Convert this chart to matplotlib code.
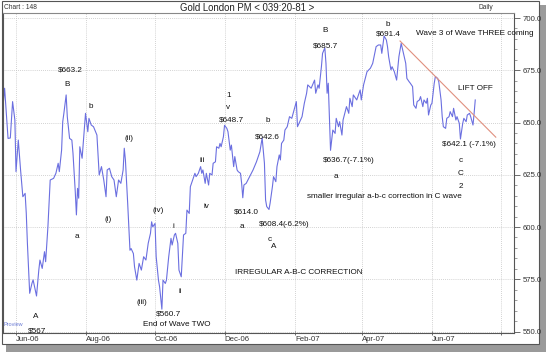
import datetime as dt
import matplotlib
matplotlib.use("Agg")
import matplotlib.pyplot as plt
import matplotlib.dates as mdates
from matplotlib.ticker import MultipleLocator, FormatStrFormatter
from matplotlib.patches import Rectangle

plt.rcParams['font.family'] = ['Liberation Sans', 'DejaVu Sans']

# daily gold fix (date, US$)
dates = [
    "2006-05-20", "2006-05-22", "2006-05-25", "2006-05-27", "2006-05-29", "2006-05-31",
    "2006-06-01", "2006-06-03", "2006-06-05", "2006-06-07", "2006-06-09", "2006-06-10",
    "2006-06-11", "2006-06-13", "2006-06-15", "2006-06-16", "2006-06-19", "2006-06-21",
    "2006-06-22", "2006-06-24", "2006-06-26", "2006-06-27", "2006-06-29", "2006-07-01",
    "2006-07-04", "2006-07-06", "2006-07-08", "2006-07-09", "2006-07-11", "2006-07-12",
    "2006-07-13", "2006-07-15", "2006-07-16", "2006-07-18", "2006-07-20", "2006-07-21",
    "2006-07-23", "2006-07-24", "2006-07-25", "2006-07-26", "2006-07-27", "2006-07-29",
    "2006-07-31", "2006-08-01", "2006-08-03", "2006-08-04", "2006-08-06", "2006-08-08",
    "2006-08-11", "2006-08-13", "2006-08-15", "2006-08-17", "2006-08-19", "2006-08-20",
    "2006-08-22", "2006-08-24", "2006-08-26", "2006-08-28", "2006-08-30", "2006-09-01",
    "2006-09-03", "2006-09-04", "2006-09-05", "2006-09-07", "2006-09-09", "2006-09-10",
    "2006-09-12", "2006-09-13", "2006-09-15", "2006-09-17", "2006-09-19", "2006-09-21",
    "2006-09-23", "2006-09-25", "2006-09-27", "2006-09-28", "2006-09-29", "2006-10-01",
    "2006-10-02", "2006-10-04", "2006-10-05", "2006-10-07", "2006-10-08", "2006-10-10",
    "2006-10-11", "2006-10-13", "2006-10-15", "2006-10-16", "2006-10-18", "2006-10-19",
    "2006-10-21", "2006-10-22", "2006-10-24", "2006-10-25", "2006-10-26", "2006-10-28",
    "2006-10-29", "2006-10-31", "2006-11-01", "2006-11-03", "2006-11-05", "2006-11-06",
    "2006-11-08", "2006-11-10", "2006-11-11", "2006-11-12", "2006-11-14", "2006-11-15",
    "2006-11-17", "2006-11-18", "2006-11-20", "2006-11-21", "2006-11-23", "2006-11-24",
    "2006-11-26", "2006-11-27", "2006-11-28", "2006-11-30", "2006-12-01", "2006-12-03",
    "2006-12-04", "2006-12-06", "2006-12-07", "2006-12-09", "2006-12-10", "2006-12-12",
    "2006-12-13", "2006-12-15", "2006-12-16", "2006-12-17", "2006-12-18", "2006-12-20",
    "2006-12-23", "2006-12-26", "2006-12-29", "2007-01-01", "2007-01-03", "2007-01-05",
    "2007-01-06", "2007-01-07", "2007-01-09", "2007-01-10", "2007-01-12", "2007-01-13",
    "2007-01-15", "2007-01-16", "2007-01-18", "2007-01-19", "2007-01-20", "2007-01-22",
    "2007-01-23", "2007-01-25", "2007-01-27", "2007-01-29", "2007-01-31", "2007-02-02",
    "2007-02-03", "2007-02-07", "2007-02-09", "2007-02-11", "2007-02-12", "2007-02-15",
    "2007-02-18", "2007-02-19", "2007-02-21", "2007-02-22", "2007-02-24", "2007-02-25",
    "2007-02-27", "2007-02-28", "2007-03-01", "2007-03-02", "2007-03-03", "2007-03-04",
    "2007-03-06", "2007-03-08", "2007-03-09", "2007-03-11", "2007-03-12", "2007-03-14",
    "2007-03-15", "2007-03-18", "2007-03-20", "2007-03-21", "2007-03-23", "2007-03-24",
    "2007-03-27", "2007-03-30", "2007-03-31", "2007-04-02", "2007-04-05", "2007-04-08",
    "2007-04-10", "2007-04-13", "2007-04-15", "2007-04-17", "2007-04-18", "2007-04-20",
    "2007-04-22", "2007-04-23", "2007-04-24", "2007-04-26", "2007-04-27", "2007-04-29",
    "2007-05-01", "2007-05-03", "2007-05-05", "2007-05-07", "2007-05-09", "2007-05-10",
    "2007-05-12", "2007-05-13", "2007-05-15", "2007-05-16", "2007-05-18", "2007-05-19",
    "2007-05-21", "2007-05-22", "2007-05-24", "2007-05-25", "2007-05-27", "2007-05-28",
    "2007-05-29", "2007-05-31", "2007-06-01", "2007-06-03", "2007-06-04", "2007-06-06",
    "2007-06-07", "2007-06-09", "2007-06-10", "2007-06-11", "2007-06-13", "2007-06-14",
    "2007-06-16", "2007-06-17", "2007-06-19", "2007-06-20", "2007-06-22", "2007-06-23",
    "2007-06-25", "2007-06-26", "2007-06-28", "2007-06-29", "2007-07-01", "2007-07-02",
    "2007-07-04", "2007-07-05", "2007-07-07", "2007-07-08", "2007-07-09",
]
prices = [
    654.4, 666.4, 642.4, 642.6, 660.0, 651.2,
    626.5, 641.6, 627.3, 614.5, 616.1, 606.6,
    592.2, 568.3, 573.1, 574.7, 567.0, 579.4,
    584.2, 580.2, 588.2, 583.4, 600.1, 622.5,
    623.3, 625.7, 630.5, 626.5, 636.8, 650.4,
    654.4, 663.2, 652.8, 642.4, 641.6, 635.3,
    616.9, 605.8, 618.5, 613.8, 638.4, 632.9,
    647.2, 654.4, 645.6, 652.0, 648.8, 648.0,
    644.0, 624.9, 628.9, 622.5, 614.5, 627.3,
    628.1, 624.1, 622.5, 614.5, 622.5, 620.9,
    627.3, 637.7, 632.1, 611.3, 588.9, 589.7,
    587.3, 581.0, 574.6, 582.6, 579.4, 585.8,
    584.2, 592.2, 597.0, 602.5, 600.1, 601.7,
    585.8, 574.6, 571.4, 560.7, 574.6, 573.0,
    574.6, 585.8, 594.6, 591.4, 596.2, 597.0,
    592.2, 579.4, 576.2, 585.8, 596.2, 597.0,
    608.1, 606.5, 619.3, 622.5, 625.7, 624.1,
    625.7, 628.9, 625.7, 627.3, 620.9, 625.7,
    620.1, 625.7, 624.9, 630.5, 631.2, 638.4,
    637.7, 640.0, 638.4, 643.2, 648.7, 647.2,
    645.6, 636.8, 639.2, 628.9, 633.7, 627.3,
    626.5, 625.7, 620.9, 614.0, 620.1, 620.9,
    624.1, 627.3, 631.2, 636.0, 642.6, 630.5,
    613.0, 609.8, 608.4, 611.5, 619.3, 624.1,
    621.7, 628.9, 634.5, 632.1, 640.0, 641.6,
    646.4, 648.0, 652.8, 652.0, 656.0, 660.0,
    648.0, 652.8, 659.2, 664.0, 668.0, 666.4,
    670.3, 664.0, 668.0, 666.4, 676.7, 683.1,
    685.7, 678.3, 664.0, 668.8, 652.8, 636.7,
    646.4, 644.8, 652.0, 648.0, 650.4, 644.0,
    651.2, 657.6, 654.4, 661.6, 657.6, 663.2,
    660.8, 665.6, 660.8, 668.0, 674.3, 676.0,
    678.3, 686.3, 687.1, 687.1, 683.1, 691.4,
    689.5, 686.3, 681.5, 675.2, 676.7, 674.3,
    670.3, 681.5, 687.9, 683.1, 678.3, 671.1,
    669.5, 668.8, 667.2, 658.4, 656.8, 660.0,
    660.8, 662.4, 657.6, 660.8, 659.2, 661.6,
    653.6, 658.4, 659.2, 668.8, 672.0, 671.1,
    669.5, 660.8, 652.8, 648.0, 647.2, 652.0,
    652.8, 655.2, 652.8, 656.8, 651.2, 652.8,
    649.6, 642.1, 649.6, 652.0, 650.4, 653.6,
    654.4, 652.8, 648.8, 654.4, 660.8,
]

# falling resistance line
trend_dates = ["2007-05-04", "2007-07-27"]
trend_prices = [689.0, 643.0]

W, H = 546, 352


def fx(x):
    return x / W


def fy(y):
    return 1 - y / H


def to_dt(s):
    return dt.datetime.strptime(s, "%Y-%m-%d")


fig = plt.figure(figsize=(W / 100, H / 100), dpi=100)
fig.patch.set_facecolor("white")

# drop shadow + outer frame
fig.patches.append(Rectangle((fx(6), fy(352)), fx(540), 8 / H, transform=fig.transFigure,
                             facecolor="#9a9a9a", edgecolor="none", zorder=-5))
fig.patches.append(Rectangle((fx(539), fy(350)), 7 / W, 345 / H, transform=fig.transFigure,
                             facecolor="#9a9a9a", edgecolor="none", zorder=-5))
fig.patches.append(Rectangle((fx(2), fy(344)), 537 / W, 343 / H, transform=fig.transFigure,
                             facecolor="white", edgecolor="#555555", lw=0.8, zorder=-4))

ax = fig.add_axes([fx(3), fy(333), (514 - 3) / W, (333 - 13) / H])
ax.set_zorder(2)
ax.set_facecolor("none")

ax.plot([to_dt(d) for d in dates], prices, color="#6b6fe0", lw=0.8)
ax.plot([to_dt(d) for d in trend_dates], trend_prices, color="#e0907f", lw=0.8)

ax.set_xlim(dt.datetime(2006, 5, 20, 14), dt.datetime(2007, 8, 12))
ax.set_ylim(549.3, 702.4)

ax.yaxis.tick_right()
ax.yaxis.set_major_locator(MultipleLocator(25))
ax.yaxis.set_minor_locator(MultipleLocator(5))
ax.yaxis.set_major_formatter(FormatStrFormatter("%.1f"))
ax.tick_params(axis="y", which="major", length=4, width=0.6, color="#555555",
               labelsize=5.6, pad=2, labelcolor="#333333")
ax.tick_params(axis="y", which="minor", length=2, width=0.5, color="#777777")

ax.xaxis.set_major_locator(mdates.MonthLocator(bymonth=[2, 4, 6, 8, 10, 12]))
ax.tick_params(axis="x", which="major", length=3, width=0.6, color="#555555",
               labelsize=5.6, pad=1, labelcolor="#333333", direction="inout")
ticks = ax.get_xticks()
ax.set_xticks(ticks)
ax.set_xticklabels([mdates.num2date(t).strftime("%b-%y")
                    if mdates.num2date(t) < dt.datetime(2007, 7, 1, tzinfo=mdates.num2date(t).tzinfo)
                    else "" for t in ticks], ha="left")

ax.grid(True, which="major", color="#c4c4c4", lw=0.6, ls=(0, (1, 1.5)))
for sp in ax.spines.values():
    sp.set_color("#555555")
    sp.set_linewidth(0.8)
ax.spines["top"].set_color("#888888")

# title bar
fig.text(fx(4), fy(7.5), "Chart : 148", fontsize=4.8, va="center", ha="left", color="#333333")
fig.text(fx(247), fy(8), "Gold London PM < 039:20-81 >", fontsize=6.9, va="center",
         ha="center", color="#222222")
fig.text(fx(493), fy(7.5), "Daily", fontsize=4.8, va="center", ha="right", color="#333333")
fig.text(fx(4), fy(325), "Proview", fontsize=4.0, va="center", ha="left", color="#6b7bd4")

# wave annotations (pixel positions in the reference)
notes = [
    (70, 70, "$663.2"), (66.7, 84, "B"), (90.7, 106.7, "b"), (129, 138.3, "(ii)"),
    (108.3, 219.3, "(i)"), (76.7, 236, "a"), (157.7, 210, "(iv)"), (173.3, 226.7, "i"),
    (35.7, 316, "A"), (36.7, 331, "$567"), (141.7, 302.7, "(iii)"), (168.3, 314.3, "$560.7"),
    (176.7, 325, "End of Wave TWO"), (180, 291.7, "ii"), (206.7, 206.7, "iv"),
    (246, 211.7, "$614.0"), (241.7, 226.7, "a"), (271.7, 224.3, "$608.4"),
    (269.3, 239.5, "c"), (274, 246, "A"), (299, 272.7, "IRREGULAR A-B-C CORRECTION"),
    (384.7, 197, "smaller irregular a-b-c correction in C wave"),
    (228.3, 95.7, "1"), (228.3, 107.7, "v"), (231.7, 120, "$648.7"), (267.7, 121, "b"),
    (267.3, 136.7, "$642.6"), (201.7, 161, "iii"), (325.5, 31, "B"), (325.5, 46, "$685.7"),
    (336, 176, "a"), (387.5, 24, "b"), (388.3, 34.5, "$691.4"),
    (475, 33.3, "Wave 3 of Wave THREE coming"), (475, 88.3, "LIFT OFF"),
    (469, 144.3, "$642.1 (-7.1%)"), (460.7, 160.7, "c"), (460.7, 173.3, "C"),
    (460.7, 186, "2"),
]
for x, y, t in notes:
    fig.text(fx(x), fy(y), t, fontsize=5.9, ha="center", va="center", color="#111111",
             zorder=3)
fig.text(fx(282.5), fy(225), "(-6.2%)", fontsize=5.9, ha="left", va="center",
         color="#111111", zorder=3)
fig.text(fx(323), fy(160.7), "$636.7(-7.1%)", fontsize=5.9, ha="left", va="center",
         color="#111111", zorder=3)

fig.savefig("out.png", dpi=100)
